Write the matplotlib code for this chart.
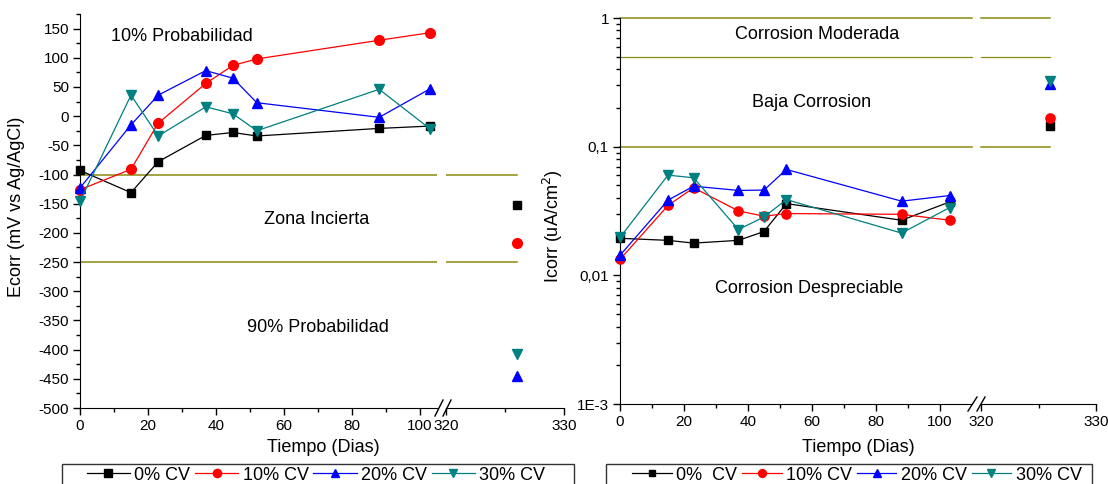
import matplotlib
matplotlib.use('Agg')
import matplotlib.pyplot as plt
from matplotlib.lines import Line2D
from matplotlib.patches import Rectangle
from matplotlib.ticker import FixedLocator, FixedFormatter, NullFormatter, MultipleLocator

plt.rcParams['font.family'] = ['Liberation Sans', 'DejaVu Sans']
plt.rcParams['axes.unicode_minus'] = False

# ---------------- data ----------------
days = [0, 15, 23, 37, 45, 52, 88, 103]
day_late = 326

labels_left = ['0% CV', '10% CV', '20% CV', '30% CV']
labels_right = ['0%  CV', '10% CV', '20% CV', '30% CV']

ecorr_0 = [-93, -131, -78, -33, -28, -34, -21, -17]
ecorr_10 = [-126, -91, -12, 56, 87, 98, 130, 143]
ecorr_20 = [-123, -15, 36, 78, 65, 23, -2, 47]
ecorr_30 = [-146, 36, -34, 16, 4, -25, 46, -22]
ecorr_late = [-153, -217, -446, -407]

icorr_0 = [0.0194, 0.0187, 0.0178, 0.0187, 0.0219, 0.0361, 0.0268, 0.0372]
icorr_10 = [0.0133, 0.0349, 0.0479, 0.0317, 0.0288, 0.0302, 0.0298, 0.0268]
icorr_20 = [0.0143, 0.0384, 0.0493, 0.0457, 0.0460, 0.0665, 0.0377, 0.0417]
icorr_30 = [0.0197, 0.0601, 0.0573, 0.0227, 0.0284, 0.0388, 0.0213, 0.0336]
icorr_late = [0.145, 0.168, 0.308, 0.321]

ecorr_limits = [-100, -250]
icorr_limits = [1, 0.5, 0.1]

ecorr_ticks = list(range(-500, 151, 50))
icorr_ticks = [1e-3, 1e-2, 1e-1, 1]
icorr_ticklabels = ['1E-3', '0,01', '0,1', '1']
day_ticks = [0, 20, 40, 60, 80, 100]
late_ticks = [320, 330]

ecorr_texts = [('10% Probabilidad', 30, 136), ('Zona Incierta', 69.5, -177),
               ('90% Probabilidad', 70, -362)]
icorr_texts = [('Corrosion Moderada', 61.5, 0.74), ('Baja Corrosion', 60, 0.222),
               ('Corrosion Despreciable', 59, 0.0079)]

# ---------------- styles ----------------
colors = ['#000000', '#ff0000', '#0000ff', '#008080']
markers = ['s', 'o', '^', 'v']
msizes = [6.2, 7, 7.5, 7.5]
zone_color = '#8a8a10'
FS = 13
TFS = 11

W, H = 1108, 484
fig = plt.figure(figsize=(W / 100, H / 100), dpi=100)


def axpos(x0, x1, ytop, ybot):
    return [x0 / W, 1 - ybot / H, (x1 - x0) / W, (ybot - ytop) / H]


ax1 = fig.add_axes(axpos(80, 437, 14, 408))
ax2 = fig.add_axes(axpos(446, 564, 14, 408), sharey=ax1)
ax3 = fig.add_axes(axpos(620, 972, 18, 404))
ax4 = fig.add_axes(axpos(981, 1096, 18, 404), sharey=ax3)
ax3.set_yscale('log')

for ax in (ax1, ax2, ax3, ax4):
    ax.spines['top'].set_visible(False)
    ax.spines['right'].set_visible(False)
    ax.patch.set_alpha(0)
    ax.tick_params(direction='out', which='major', length=5, width=1, labelsize=TFS, pad=3)
    ax.tick_params(direction='out', which='minor', length=3, width=1)
for ax in (ax2, ax4):
    ax.spines['left'].set_visible(False)
    ax.tick_params(axis='y', which='both', left=False, labelleft=False)

ecorr_series = [ecorr_0, ecorr_10, ecorr_20, ecorr_30]
icorr_series = [icorr_0, icorr_10, icorr_20, icorr_30]

# zone lines
for v in ecorr_limits:
    ax1.axhline(v, color=zone_color, lw=1.1, zorder=1)
    ax2.plot([320, day_late], [v, v], color=zone_color, lw=1.1, zorder=1)
for v in icorr_limits:
    lw = 0.9 if v == 0.5 else 1.1
    ax3.axhline(v, color=zone_color, lw=lw, zorder=1, clip_on=False)
    ax4.plot([320, day_late], [v, v], color=zone_color, lw=lw, zorder=1, clip_on=False)

handles_l = []
handles_r = []
for i in range(4):
    h, = ax1.plot(days, ecorr_series[i], color=colors[i], marker=markers[i],
                  ms=msizes[i], lw=0.9, clip_on=False, zorder=3)
    handles_l.append(h)
    ax2.plot([day_late], [ecorr_late[i]], color=colors[i], marker=markers[i],
             ms=msizes[i], lw=0, clip_on=False, zorder=3)
    h2, = ax3.plot(days, icorr_series[i], color=colors[i], marker=markers[i],
                   ms=msizes[i] * 0.95, lw=0.9, clip_on=False, zorder=3)
    handles_r.append(h2)
    ax4.plot([day_late], [icorr_late[i]], color=colors[i], marker=markers[i],
             ms=msizes[i] * 0.95, lw=0, clip_on=False, zorder=3)

# limits & ticks (left)
ax1.set_xlim(0, 105)
ax1.set_ylim(-500, 175)
ax1.yaxis.set_major_locator(FixedLocator(ecorr_ticks))
ax1.yaxis.set_minor_locator(MultipleLocator(25))
ax1.xaxis.set_major_locator(FixedLocator(day_ticks))
ax1.xaxis.set_minor_locator(FixedLocator([10, 30, 50, 70, 90]))
ax2.set_xlim(320, 330)
ax2.xaxis.set_major_locator(FixedLocator(late_ticks))
ax2.xaxis.set_minor_locator(FixedLocator([325]))

# limits & ticks (right)
ax3.set_xlim(0, 110)
ax3.set_ylim(1e-3, 1)
ax3.yaxis.set_major_locator(FixedLocator(icorr_ticks))
ax3.yaxis.set_major_formatter(FixedFormatter(icorr_ticklabels))
minor_log = [m * 10.0 ** e for e in (-3, -2, -1) for m in range(2, 10)]
ax3.yaxis.set_minor_locator(FixedLocator(minor_log))
ax3.yaxis.set_minor_formatter(NullFormatter())
ax3.xaxis.set_major_locator(FixedLocator(day_ticks))
ax3.xaxis.set_minor_locator(FixedLocator([10, 30, 50, 70, 90]))
ax4.set_xlim(320, 330)
ax4.xaxis.set_major_locator(FixedLocator(late_ticks))
ax4.xaxis.set_minor_locator(FixedLocator([325]))

# zone texts
for t, x, y in ecorr_texts:
    ax1.text(x, y, t, fontsize=FS, ha='center', va='center')
for t, x, y in icorr_texts:
    ax3.text(x, y, t, fontsize=FS, ha='center', va='center')

# axis labels
ax1.set_ylabel('Ecorr (mV vs Ag/AgCl)', fontsize=FS)
ax1.yaxis.set_label_coords(-0.154, 0.51)
ax3.set_ylabel('Icorr (uA/cm$^2$)', fontsize=FS)
ax3.yaxis.set_label_coords(-0.156, 0.46)
fig.text(323 / W, 1 - 447 / H, 'Tiempo (Dias)', fontsize=FS, ha='center', va='center')
fig.text(858 / W, 1 - 447 / H, 'Tiempo (Dias)', fontsize=FS, ha='center', va='center')

# break marks
def brk(x0, y0, x1, y1):
    fig.add_artist(Line2D([x0 / W, x1 / W], [1 - y0 / H, 1 - y1 / H], color='black', lw=1))

brk(435, 416, 443, 400)
brk(443, 416, 451, 400)
brk(968, 411, 977, 397)
brk(977, 411, 985, 397)

# legend frames (wider than content, cut by figure bottom)
def frame(x0, x1, ytop):
    fig.add_artist(Rectangle((x0 / W, 1 - (ytop + 40) / H), (x1 - x0) / W, 40 / H,
                             transform=fig.transFigure, fill=False,
                             edgecolor='#333333', lw=1, clip_on=False))

frame(62, 574, 464)
frame(606, 1092, 464)

# legends
legkw = dict(loc='upper center', ncol=4, frameon=False, markerscale=0.85,
             fontsize=FS, handlelength=2.4, handletextpad=0.25, columnspacing=0.25,
             borderpad=0.15, borderaxespad=0, numpoints=1)
fig.legend(handles_l, labels_left, bbox_to_anchor=(316 / W, 1 - 464 / H), **legkw)
legkw['handlelength'] = 2.2
fig.legend(handles_r, labels_right, bbox_to_anchor=(857 / W, 1 - 464 / H), **legkw)

fig.savefig('out.png', dpi=100)
